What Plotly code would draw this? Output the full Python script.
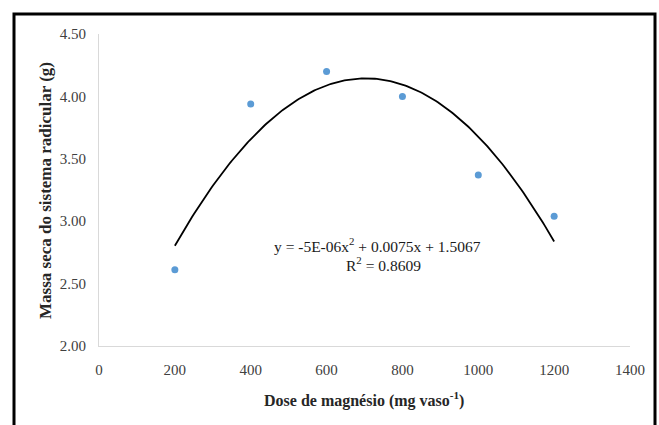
import numpy as np
import plotly.graph_objects as go

dose = [200, 400, 600, 800, 1000, 1200]
massa = [2.61, 3.94, 4.20, 4.00, 3.37, 3.04]
x_ticks = [0, 200, 400, 600, 800, 1000, 1200, 1400]
y_ticks = [2.0, 2.5, 3.0, 3.5, 4.0, 4.5]

coef = np.polyfit(dose, massa, 2)
xf = np.linspace(min(dose), max(dose), 200)
yf = np.polyval(coef, xf)

FONT = "Liberation Serif"
W, H = 659, 425
L, R, T, B = 99, 29, 34, 79
pw, ph = W - L - R, H - T - B

def px(x):
    return (x - L) / pw

def py(y):
    return (H - B - y) / ph

fig = go.Figure()
fig.add_trace(go.Scatter(x=xf, y=yf, mode="lines",
                         line=dict(color="black", width=1.8), hoverinfo="skip"))
fig.add_trace(go.Scatter(x=dose, y=massa, mode="markers",
                         marker=dict(color="#5B9BD5", size=7)))

fig.update_layout(
    width=W, height=H, showlegend=False,
    margin=dict(l=L, r=R, t=T, b=B),
    paper_bgcolor="white", plot_bgcolor="white",
    font=dict(family=FONT, size=15, color="#404040"),
    xaxis=dict(range=[0, 1400], tickvals=x_ticks, showgrid=False, zeroline=False,
               showline=True, linecolor="#D9D9D9", linewidth=1,
               ticks="", ticklabelstandoff=10,
               tickfont=dict(family=FONT, size=15, color="#404040")),
    yaxis=dict(range=[2, 4.5], tickvals=y_ticks, tickformat=".2f", showgrid=False,
               zeroline=False, showline=True, linecolor="#D9D9D9", linewidth=1,
               ticks="", ticklabelstandoff=9,
               tickfont=dict(family=FONT, size=15, color="#404040")),
    annotations=[
        dict(text="<b>Dose de magnésio (mg vaso<sup>-1</sup>)</b>", xref="paper", yref="paper",
             x=px(364), y=py(399), showarrow=False, xanchor="center", yanchor="middle",
             font=dict(family=FONT, size=16, color="#262626")),
        dict(text="<b>Massa seca do sistema radicular (g)</b>", xref="paper", yref="paper",
             x=px(45), y=py(191), showarrow=False, xanchor="center", yanchor="middle",
             textangle=-90, font=dict(family=FONT, size=17, color="#262626")),
        dict(text="y = -5E-06x<sup>2</sup> + 0.0075x + 1.5067", xref="paper", yref="paper",
             x=px(377), y=py(245), showarrow=False, xanchor="center", yanchor="middle",
             font=dict(family=FONT, size=15.5, color="#1a1a1a")),
        dict(text="R<sup>2</sup> = 0.8609", xref="paper", yref="paper",
             x=px(383), y=py(264), showarrow=False, xanchor="center", yanchor="middle",
             font=dict(family=FONT, size=15.5, color="#1a1a1a")),
    ],
    shapes=[
        dict(type="rect", xref="paper", yref="paper",
             x0=px(14), x1=px(655), y0=py(440), y1=py(14),
             line=dict(color="black", width=3), fillcolor="rgba(0,0,0,0)", layer="above"),
    ],
)

fig.write_html("out.html")
